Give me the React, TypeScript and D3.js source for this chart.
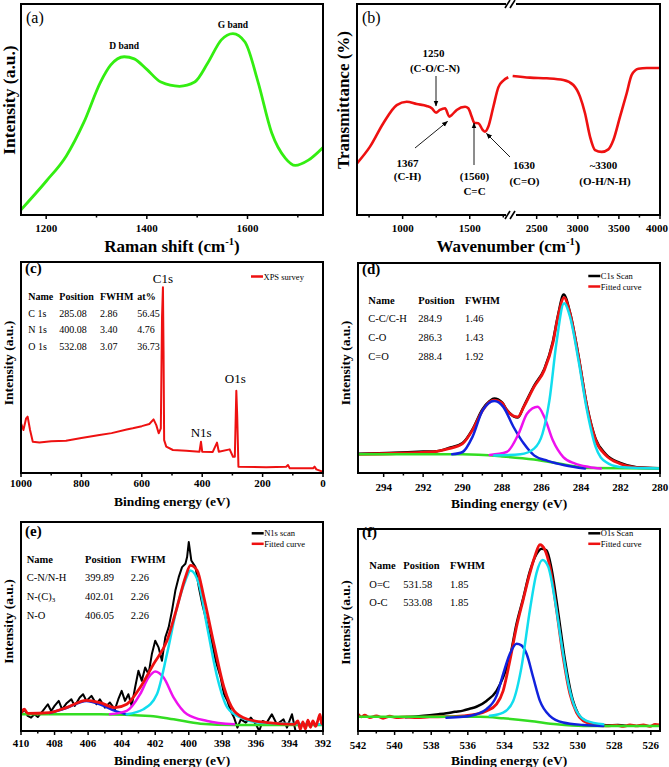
import React from 'react';
import * as d3 from 'd3';

type Pt = [number, number];

const SERIF = "'Liberation Serif', 'Times New Roman', Times, serif";

const RED = '#ee1111';
const GREEN = '#33dd22';
const CYAN = '#11ddee';
const MAGENTA = '#ee11ee';
const BLUE = '#1122dd';

const bold = (size: number) => ({ fontSize: size, fontWeight: 'bold' as const });

// (a) Raman spectrum
const ramanMajor = [1200, 1400, 1600];
const ramanMinor = [1300, 1500, 1700];
const ramanSpectrum: Pt[] = [
  [1150, 2.5], [1200, 16], [1240, 28], [1275, 44], [1308, 63], [1328, 71], [1355, 75],
  [1375, 74], [1400, 69], [1428, 63], [1465, 61], [1495, 63], [1521, 72], [1548, 83],
  [1571, 86], [1595, 82], [1621, 63], [1648, 39], [1675, 27], [1695, 23.5], [1721, 26], [1750, 32],
];

// (b) FTIR, broken axis
const ftirLowMajor = [1000, 1500];
const ftirLowMinor = [750, 1250, 1750];
const ftirHighMajor = [2500, 3000, 3500, 4000];
const ftirHighMinor = [2750, 3250, 3750];
const ftirLow: Pt[] = [
  [660, 24.5], [757, 32.4], [856, 43.5], [956, 52.1], [1030, 53.7], [1105, 52.6], [1179, 51.7],
  [1217, 50.6], [1249, 48.5], [1278, 49.8], [1316, 50.6], [1348, 46.6], [1366, 47.4],
  [1403, 49.8], [1465, 51.3], [1489, 50.6], [1515, 46.6], [1534, 43.7], [1564, 43.5],
  [1597, 40.3], [1614, 39.5], [1638, 41.8], [1676, 51.3], [1713, 60.5], [1750, 63.7], [1787, 65.3],
];
const ftirHigh: Pt[] = [
  [2208, 65.9], [2419, 65.1], [2622, 64.8], [2825, 64], [2946, 61.6], [3027, 56.1], [3088, 48.2],
  [3149, 37.1], [3210, 30.8], [3291, 29.9], [3372, 31.1], [3433, 35.5], [3514, 46.6],
  [3595, 57.7], [3656, 66.4], [3737, 69.3], [3839, 69.7], [4000, 69.7],
];

// (c) XPS survey
const surveyMajor = [1000, 800, 600, 400, 200, 0];
const surveyMinor = [900, 700, 500, 300, 100];
const surveySpectrum: Pt[] = [
  [1000, 23.5], [992, 20.4], [983, 25.9], [978, 26.7], [970, 20.4], [961, 14.8], [939, 14.4],
  [900, 15.1], [851, 15.3], [800, 16.6], [740, 18], [700, 18.9], [650, 20.6], [630, 21.2],
  [600, 22.2], [575, 23.2], [561, 25.4], [552, 22.7], [544, 18.8], [537, 21.2], [533, 74],
  [530, 88], [528, 58], [526, 15.6], [519, 12.5], [497, 10.9], [453, 10.6], [409, 10.1],
  [404, 14.8], [400, 10.1], [365, 10], [351, 14.4], [345, 10.1], [309, 11.2], [298, 7.7],
  [292, 7.7], [287, 39], [284, 26.7], [280, 3], [188, 2.7], [122, 3], [116, 3.8], [110, 2.2],
  [33, 2.2], [28, 3], [22, 1.7], [0, 0.6],
];
const surveyHead = ['Name', 'Position', 'FWHM', 'at%'];
const surveyNames = ['C 1s', 'N 1s', 'O 1s'];
const surveyPos = ['285.08', '400.08', '532.08'];
const surveyFwhm = ['2.86', '3.40', '3.07'];
const surveyAt = ['56.45', '4.76', '36.73'];

// (d) C1s
const c1sMajor = [294, 292, 290, 288, 286, 284, 282, 280];
const c1sMinor = [293, 291, 289, 287, 285, 283, 281];
const c1sScan: Pt[] = [
  [295.3, 9.2], [293.5, 9.6], [292, 10.2], [291.3, 10.4], [290.7, 11.9], [290, 14.3],
  [289.5, 20.8], [289, 30.3], [288.63, 34.3], [288.4, 35.5], [288, 33.6], [287.77, 30.2],
  [287.2, 26.4], [286.9, 31.8], [286.38, 41.5], [285.86, 49.6], [285.43, 62.5], [285.17, 75],
  [284.88, 85], [284.56, 76.5], [284.13, 55.8], [283.7, 32], [283.26, 16.2], [282.74, 8.9],
  [282.05, 4.9], [281.18, 2.8], [280, 2.3],
];
const c1sFit: Pt[] = [
  [295.3, 8.9], [291.57, 10], [290.7, 11.6], [290, 14], [289.5, 20.4], [288.98, 29.9],
  [288.63, 33.9], [288.4, 34.7], [288, 33.4], [287.77, 29.9], [287.2, 26.7], [286.9, 31.5],
  [286.38, 41], [285.86, 49], [285.43, 61.7], [285.17, 74.4], [284.86, 83.5], [284.56, 76],
  [284.13, 55.3], [283.7, 31.5], [283.26, 15.6], [282.74, 8.4], [282.05, 4.5], [281.18, 2.6], [280, 2.1],
];
const c1sCC: Pt[] = [
  [288.4, 8.3], [287.07, 8.9], [286.38, 11.6], [285.95, 18.8], [285.6, 34.7], [285.25, 61.7],
  [284.86, 80.8], [284.56, 74.4], [284.13, 53.7], [283.7, 29.9], [283.26, 12.4], [282.74, 5.2],
  [282.05, 2.9], [280, 2.1],
];
const c1sCO: Pt[] = [
  [288.63, 8.6], [287.77, 10], [287.16, 18.8], [286.73, 28.3], [286.2, 31.5], [285.86, 26.7],
  [285.43, 15.6], [284.9, 7.6], [284.3, 4.5], [283.6, 2.9], [283, 2.1],
];
const c1sCdO: Pt[] = [
  [290.53, 8.9], [290, 10], [289.5, 17.2], [288.98, 29.9], [288.4, 34.3], [287.94, 31.5],
  [287.42, 21.9], [286.9, 14], [286.38, 8.4], [285.69, 5.8], [284.83, 3.7], [283.8, 2.1],
];
const c1sBackground: Pt[] = [
  [295.3, 8.9], [290, 8.9], [288, 7.9], [286.38, 6.4], [284.65, 3.7], [283.6, 2.4], [280, 2.1],
];
const c1sHead = ['Name', 'Position', 'FWHM'];
const c1sNames = ['C-C/C-H', 'C-O', 'C=O'];
const c1sPos = ['284.9', '286.3', '288.4'];
const c1sFwhm = ['1.46', '1.43', '1.92'];

// (e) N1s
const n1sMajor = [410, 408, 406, 404, 402, 400, 398, 396, 394, 392];
const n1sMinor = [409, 407, 405, 403, 401, 399, 397, 395, 393];
const n1sScan: Pt[] = [
  [410, 8], [409.8, 10.4], [409.6, 7.2], [409.4, 6.4], [409.2, 8], [409, 6.7], [408.7, 9.6],
  [408.4, 12.8], [408.2, 9.6], [408, 12], [407.75, 14.4], [407.55, 10.4], [407.3, 13.1],
  [407, 15.2], [406.8, 12], [406.5, 16], [406.3, 17.6], [406.1, 14.4], [405.8, 16.8],
  [405.5, 12.8], [405.3, 15.2], [405, 11.2], [404.7, 13.6], [404.4, 10.4], [404.2, 15.2],
  [404, 19.2], [403.8, 14.4], [403.6, 17.6], [403.4, 12], [403.2, 20.8], [403, 28.8],
  [402.8, 24], [402.6, 30.4], [402.4, 27.2], [402.2, 36.8], [402, 43.2], [401.8, 40],
  [401.6, 33.6], [401.4, 44.8], [401.2, 49.6], [401, 57.6], [400.8, 67.2], [400.6, 73.6],
  [400.4, 78.4], [400.2, 80], [400.1, 83.2], [400, 90.4], [399.85, 81.6], [399.6, 78.4],
  [399.4, 68.8], [399.2, 60.8], [399, 54.4], [398.8, 48], [398.6, 41.6], [398.4, 33.6],
  [398.1, 25.6], [397.9, 17.6], [397.7, 14.4], [397.5, 9.6], [397.3, 6.4], [397.1, 1.6],
  [396.9, 5.6], [396.6, 4], [396.3, 6.4], [396, 3.2], [395.8, 0], [395.6, 4.8], [395.35, 4],
  [395.05, 8], [394.75, 3.2], [394.35, 5.6], [394.15, 1.6], [393.85, 8], [393.65, 0.5],
];
const n1sFit: Pt[] = [
  [410, 8.8], [409.8, 10.4], [409.6, 8.4], [408.3, 8.8], [407.3, 11.2], [406.1, 14.7],
  [405.3, 13.6], [404.4, 11.2], [403.7, 12.8], [402.9, 20.8], [402.1, 32], [401.3, 43.2],
  [400.7, 59.2], [400.2, 73.6], [399.9, 79.2], [399.5, 76.8], [399.1, 64], [398.5, 41.6],
  [397.9, 20.8], [397.3, 9.6], [396.5, 5.6], [395.3, 4], [393.7, 3.2], [393.5, 4.8],
  [393.35, 0.8], [393.2, 4.4], [393.05, 1], [392.9, 5.2], [392.75, 1.8], [392.6, 4.8],
  [392.45, 2.2], [392.3, 5.2], [392.18, 8], [392.08, 3.6], [392, 3.2],
];
const n1sCN: Pt[] = [
  [403.7, 8], [402.7, 10.4], [401.9, 17.6], [401.3, 36.8], [400.7, 59.2], [400.2, 72],
  [399.9, 76.8], [399.4, 70.4], [398.9, 49.6], [398.3, 25.6], [397.7, 11.2], [396.9, 6.4],
  [395.7, 4], [392, 3.2],
];
const n1sNC3: Pt[] = [
  [404.7, 8], [403.7, 9.6], [402.9, 17.6], [402.4, 25.6], [402, 28.5], [401.5, 25.6],
  [400.9, 16], [400.1, 8], [398.9, 4.8], [397.3, 3.2],
];
const n1sNO: Pt[] = [
  [408.3, 8.6], [407.3, 11], [406.1, 14.4], [405.3, 12.8], [404.4, 9.6], [403.7, 8],
];
const n1sBackground: Pt[] = [
  [410, 8], [405.3, 8], [402.3, 7.2], [400.9, 5.6], [399.3, 3.5], [397.3, 2.9], [392, 2.9],
];
const n1sNames = ['C-N/N-H', 'N-(C)', 'N-O'];
const n1sPos = ['399.89', '402.01', '406.05'];
const n1sFwhm = ['2.26', '2.26', '2.26'];

// (f) O1s
const o1sMajor = [542, 540, 538, 536, 534, 532, 530, 528, 526];
const o1sMinor = [541, 539, 537, 535, 533, 531, 529, 527];
const o1sScan: Pt[] = [
  [539.4, 6.8], [538.8, 7.2], [538.08, 7.8], [537.6, 8.3], [537.17, 8.8], [536.7, 9.5],
  [536.26, 10.1], [535.9, 11], [535.53, 12], [534.98, 14.9], [534.43, 19.9], [534.07, 26.6],
  [533.7, 36.5], [533.34, 53], [532.98, 65.5], [532.61, 79], [532.25, 87.5], [531.97, 90.2],
  [531.7, 89.5], [531.43, 80.5], [531.06, 58.5], [530.7, 35.5], [530.33, 17.5], [529.97, 8.5],
  [529.51, 4.6], [528.96, 3.2], [528.4, 2.8], [527.8, 3], [527.4, 2.6],
];
const o1sFit: Pt[] = [
  [542, 8.3], [541.82, 7], [541.64, 7.8], [541.36, 6.6], [541, 7.5], [540.63, 6.3],
  [540.27, 7.3], [539.9, 6.6], [539.36, 7], [538.8, 6.6], [538.08, 7], [537.17, 7.1],
  [536.26, 7.5], [535.53, 8.3], [534.98, 9.9], [534.43, 13.3], [534.07, 19.9], [533.7, 34.9],
  [533.34, 51.5], [532.98, 64.8], [532.61, 78.1], [532.34, 86.4], [532.06, 92.2],
  [531.79, 89.7], [531.52, 81.4], [531.15, 59.8], [530.79, 36.5], [530.42, 18.3],
  [530.06, 9.1], [529.69, 5], [529.15, 3.3], [528.42, 2.5], [527.87, 2.8], [527.5, 2.3],
  [527.14, 3], [526.78, 2.5], [526.41, 3], [526.05, 2.3], [525.77, 3.3], [525.5, 3],
];
const o1sOdC: Pt[] = [
  [534.8, 7.5], [534.07, 9.1], [533.52, 14.9], [533.07, 31.5], [532.61, 59.8], [532.25, 78.1],
  [531.92, 84.7], [531.61, 81.4], [531.24, 64.8], [530.88, 43.2], [530.51, 23.3],
  [530.06, 9.9], [529.51, 5], [528.6, 3.3],
];
const o1sOC: Pt[] = [
  [537.17, 6.6], [536.26, 7], [535.53, 8.3], [534.98, 10.8], [534.43, 17.4], [534.07, 28.2],
  [533.7, 38.2], [533.34, 43.2], [533.07, 42.4], [532.79, 38.2], [532.43, 26.6], [532.06, 14.9],
  [531.52, 7.5], [530.79, 4.2], [529.69, 3], [528.6, 2.5],
];
const o1sBackground: Pt[] = [
  [542, 7], [538.08, 7], [535.35, 7], [534.07, 6.3], [532.61, 5], [531.15, 3.3], [529.69, 2.5], [525.5, 2.5],
];
const o1sNames = ['O=C', 'O-C'];
const o1sPos = ['531.58', '533.08'];
const o1sFwhm = ['1.85', '1.85'];

type Box = { l: number; t: number; r: number; b: number };
type Series = { data: Pt[]; color: string; width?: number; curve?: d3.CurveFactory };
type Scale = d3.ScaleLinear<number, number>;

const invMinus1 = (size: number) => (
  <>
    <tspan dy={-size * 0.4} fontSize={size * 0.62}>-1</tspan>
    <tspan dy={size * 0.4}>)</tspan>
  </>
);

function Panel(p: {
  id: string;
  box: Box;
  xDomain: [number, number];
  majors: number[];
  minors: number[];
  series: Series[];
  tickBase: number;
  xLabel: React.ReactNode;
  xLabelBase: number;
  xLabelSize: number;
  yLabel: string;
  yLabelX: number;
  yLabelY: number;
  yLabelSize: number;
  extra?: (x: Scale, y: Scale) => React.ReactNode;
}) {
  const { box } = p;
  const x = d3.scaleLinear().domain(p.xDomain).range([box.l, box.r]);
  const y = d3.scaleLinear().domain([0, 100]).range([box.b, box.t]);
  const clip = `clip-${p.id}`;
  return (
    <g>
      <clipPath id={clip}>
        <rect x={box.l} y={box.t} width={box.r - box.l} height={box.b - box.t} />
      </clipPath>
      <g clipPath={`url(#${clip})`}>
        {p.series.map((s, i) => {
          const line = d3
            .line<Pt>()
            .x(d => x(d[0]))
            .y(d => y(d[1]))
            .curve(s.curve || d3.curveMonotoneX);
          return (
            <path
              key={i}
              d={line(s.data) || ''}
              fill="none"
              stroke={s.color}
              strokeWidth={s.width || 2.5}
              strokeLinejoin="round"
              strokeLinecap="round"
            />
          );
        })}
      </g>
      <rect x={box.l} y={box.t} width={box.r - box.l} height={box.b - box.t} fill="none" stroke="#000" strokeWidth={2} />
      {p.majors.map(v => (
        <g key={v}>
          <line x1={x(v)} x2={x(v)} y1={box.b} y2={box.b + 4} stroke="#000" strokeWidth={1.5} />
          <text x={x(v)} y={p.tickBase} textAnchor="middle" {...bold(11)}>{v}</text>
        </g>
      ))}
      {p.minors.map(v => (
        <line key={v} x1={x(v)} x2={x(v)} y1={box.b} y2={box.b + 2.5} stroke="#000" strokeWidth={1.5} />
      ))}
      <text x={(box.l + box.r) / 2} y={p.xLabelBase} textAnchor="middle" {...bold(p.xLabelSize)}>
        {p.xLabel}
      </text>
      <text
        transform={`translate(${p.yLabelX},${p.yLabelY}) rotate(-90)`}
        textAnchor="middle"
        {...bold(p.yLabelSize)}
      >
        {p.yLabel}
      </text>
      {p.extra && p.extra(x, y)}
    </g>
  );
}

function Legend({ x, y, items }: { x: number; y: number; items: { label: string; color: string }[] }) {
  return (
    <g>
      {items.map((it, i) => (
        <g key={it.label}>
          <line x1={x} x2={x + 12} y1={y + i * 10.5} y2={y + i * 10.5} stroke={it.color} strokeWidth={2.5} />
          <text x={x + 12.5} y={y + i * 10.5 + 3} fontSize={8.5}>{it.label}</text>
        </g>
      ))}
    </g>
  );
}

function Table({
  cols, head, headY, rowY, rows, size,
}: { cols: number[]; head: string[]; headY: number; rowY: number[]; rows: React.ReactNode[][]; size: number }) {
  return (
    <g fontSize={size}>
      {head.map((h, i) => (
        <text key={h} x={cols[i]} y={headY} {...bold(size)}>{h}</text>
      ))}
      {rows.map((r, j) =>
        r.map((c, i) => (
          <text key={`${j}-${i}`} x={cols[i]} y={rowY[j]}>{c}</text>
        )),
      )}
    </g>
  );
}

function FtirPanel() {
  const box: Box = { l: 357, t: 4, r: 660, b: 215 };
  const breakL = 510;
  const breakR = 512;
  const xL = d3.scaleLinear().domain([660, 1800]).range([box.l, breakL]);
  const xR = d3.scaleLinear().domain([2200, 4000]).range([breakR, box.r]);
  const y = d3.scaleLinear().domain([0, 100]).range([box.b, box.t]);
  const lineL = d3.line<Pt>().x(d => xL(d[0])).y(d => y(d[1])).curve(d3.curveMonotoneX);
  const lineR = d3.line<Pt>().x(d => xR(d[0])).y(d => y(d[1])).curve(d3.curveMonotoneX);
  const ticks = (s: Scale, major: number[], minor: number[]) => (
    <>
      {major.map(v => (
        <g key={v}>
          <line x1={s(v)} x2={s(v)} y1={box.b} y2={box.b + 4} stroke="#000" strokeWidth={1.5} />
          <text x={Math.min(s(v), 657)} y={232} textAnchor="middle" {...bold(11)}>{v}</text>
        </g>
      ))}
      {minor.map(v => (
        <line key={v} x1={s(v)} x2={s(v)} y1={box.b} y2={box.b + 2.5} stroke="#000" strokeWidth={1.5} />
      ))}
    </>
  );
  const bx = (breakL + breakR) / 2;
  const breakMark = (yy: number) => (
    <g>
      <rect x={bx - 5} y={yy - 3} width={10} height={6} fill="#fff" />
      <line x1={bx - 6} y1={yy + 4} x2={bx - 1} y2={yy - 4} stroke="#000" strokeWidth={1.6} />
      <line x1={bx - 1} y1={yy + 4} x2={bx + 4} y2={yy - 4} stroke="#000" strokeWidth={1.6} />
    </g>
  );
  const arrows: [number, number, number, number][] = [
    [436, 76, 436, 106],
    [415, 148, 447.5, 121.5],
    [474, 165, 474, 123],
    [510, 157, 486.5, 133.5],
  ];
  return (
    <g>
      <path d={lineL(ftirLow) || ''} fill="none" stroke={RED} strokeWidth={2.6} strokeLinejoin="round" />
      <path d={lineR(ftirHigh) || ''} fill="none" stroke={RED} strokeWidth={2.6} strokeLinejoin="round" />
      <rect x={box.l} y={box.t} width={box.r - box.l} height={box.b - box.t} fill="none" stroke="#000" strokeWidth={2} />
      {breakMark(box.t)}
      {breakMark(box.b)}
      {ticks(xL, ftirLowMajor, ftirLowMinor)}
      {ticks(xR, ftirHighMajor, ftirHighMinor)}
      <text x={(box.l + box.r) / 2} y={252} textAnchor="middle" {...bold(17)}>
        Wavenumber (cm{invMinus1(17)}
      </text>
      <text transform="translate(349,100) rotate(-90)" textAnchor="middle" {...bold(17)}>
        Transmittance (%)
      </text>
      <text x={362} y={23} fontSize={16}>(b)</text>
      {arrows.map((a, i) => (
        <line key={i} x1={a[0]} y1={a[1]} x2={a[2]} y2={a[3]} stroke="#000" strokeWidth={0.9} markerEnd="url(#arrowHead)" />
      ))}
      <g textAnchor="middle" {...bold(11)}>
        <text x={433.5} y={57}>1250</text>
        <text x={435} y={72}>(C-O/C-N)</text>
        <text x={407.5} y={167}>1367</text>
        <text x={407.5} y={179.5}>(C-H)</text>
        <text x={474.5} y={180}>(1560)</text>
        <text x={474.5} y={195}>C=C</text>
        <text x={524} y={168.5}>1630</text>
        <text x={524.5} y={184.5}>(C=O)</text>
        <text x={603.5} y={168.5}>~3300</text>
        <text x={605} y={184.5}>(O-H/N-H)</text>
      </g>
    </g>
  );
}

export default function App() {
  return (
    <svg
      width={669}
      height={767}
      viewBox="0 0 669 767"
      style={{ position: 'absolute', left: 0, top: 0, background: '#fff', fontFamily: SERIF }}
    >
      <defs>
        <marker id="arrowHead" viewBox="0 0 10 10" refX={9} refY={5} markerWidth={6} markerHeight={6} orient="auto" markerUnits="userSpaceOnUse">
          <path d="M0,1 L10,5 L0,9 Z" fill="#000" stroke="none" />
        </marker>
      </defs>
      <rect width={669} height={767} fill="#fff" />

      {/* (a) Raman */}
      <Panel
        id="a"
        box={{ l: 21, t: 4, r: 323, b: 215 }}
        xDomain={[1150, 1750]}
        majors={ramanMajor}
        minors={ramanMinor}
        series={[{ data: ramanSpectrum, color: '#33ee11', width: 2.8 }]}
        tickBase={232}
        xLabel={<>Raman shift (cm{invMinus1(17)}</>}
        xLabelBase={252}
        xLabelSize={17}
        yLabel="Intensity (a.u.)"
        yLabelX={15}
        yLabelY={100}
        yLabelSize={17.5}
        extra={x => (
          <g>
            <text x={26} y={23} fontSize={16}>(a)</text>
            <text x={x(1355)} y={48.5} textAnchor="middle" {...bold(9.5)}>D band</text>
            <text x={x(1571)} y={27.5} textAnchor="middle" {...bold(9.5)}>G band</text>
          </g>
        )}
      />

      <FtirPanel />

      {/* (c) survey */}
      <Panel
        id="c"
        box={{ l: 21, t: 262, r: 323, b: 473 }}
        xDomain={[1000, 0]}
        majors={surveyMajor}
        minors={surveyMinor}
        series={[{ data: surveySpectrum, color: RED, width: 2, curve: d3.curveLinear }]}
        tickBase={487}
        xLabel="Binding energy (eV)"
        xLabelBase={506}
        xLabelSize={13.5}
        yLabel="Intensity (a.u.)"
        yLabelX={13}
        yLabelY={363}
        yLabelSize={13.5}
        extra={x => (
          <g>
            <text x={25} y={273} {...bold(15)}>(c)</text>
            <text x={x(530)} y={283} textAnchor="middle" fontSize={13}>C1s</text>
            <text x={x(400) - 1} y={437} textAnchor="middle" fontSize={13}>N1s</text>
            <text x={x(287) - 1} y={383} textAnchor="middle" fontSize={13}>O1s</text>
            <Legend x={251} y={276.5} items={[{ label: 'XPS survey', color: RED }]} />
            <Table
              cols={[28.3, 59.3, 100, 137.3]}
              head={surveyHead}
              headY={300}
              rowY={[316.5, 333, 350]}
              rows={surveyNames.map((n, i) => [n, surveyPos[i], surveyFwhm[i], surveyAt[i]])}
              size={10}
            />
          </g>
        )}
      />

      {/* (d) C1s */}
      <Panel
        id="d"
        box={{ l: 358, t: 263, r: 660, b: 473 }}
        xDomain={[295.3, 280]}
        majors={c1sMajor}
        minors={c1sMinor}
        series={[
          { data: c1sScan, color: '#000' },
          { data: c1sFit, color: RED, width: 2.8 },
          { data: c1sBackground, color: GREEN },
          { data: c1sCdO, color: BLUE },
          { data: c1sCO, color: MAGENTA },
          { data: c1sCC, color: CYAN },
        ]}
        tickBase={491}
        xLabel="Binding energy (eV)"
        xLabelBase={508}
        xLabelSize={13.5}
        yLabel="Intensity (a.u.)"
        yLabelX={349.5}
        yLabelY={363}
        yLabelSize={13.5}
        extra={() => (
          <g>
            <text x={362} y={274} {...bold(15)}>(d)</text>
            <Legend x={588.3} y={276} items={[{ label: 'C1s Scan', color: '#000' }, { label: 'Fitted curve', color: RED }]} />
            <Table
              cols={[368.3, 418.3, 465]}
              head={c1sHead}
              headY={303.5}
              rowY={[322, 340.5, 359.5]}
              rows={c1sNames.map((n, i) => [n, c1sPos[i], c1sFwhm[i]])}
              size={10.5}
            />
          </g>
        )}
      />

      {/* (e) N1s */}
      <Panel
        id="e"
        box={{ l: 21, t: 522, r: 323, b: 731 }}
        xDomain={[410, 392]}
        majors={n1sMajor}
        minors={n1sMinor}
        series={[
          { data: n1sScan, color: '#000', width: 2, curve: d3.curveLinear },
          { data: n1sBackground, color: GREEN },
          { data: n1sNO, color: BLUE },
          { data: n1sNC3, color: MAGENTA },
          { data: n1sCN, color: CYAN },
          { data: n1sFit, color: RED, width: 2.8 },
        ]}
        tickBase={747}
        xLabel="Binding energy (eV)"
        xLabelBase={765}
        xLabelSize={13.5}
        yLabel="Intensity (a.u.)"
        yLabelX={13}
        yLabelY={621.5}
        yLabelSize={13.5}
        extra={() => (
          <g>
            <text x={25} y={536} {...bold(15)}>(e)</text>
            <Legend x={251.7} y={533.3} items={[{ label: 'N1s scan', color: '#000' }, { label: 'Fitted curve', color: RED }]} />
            <Table
              cols={[26.7, 85, 130.7]}
              head={c1sHead}
              headY={563}
              rowY={[581, 599.5, 618.5]}
              rows={n1sNames.map((n, i) => [
                i === 1 ? <>{n}<tspan fontSize={7} dy={2}>3</tspan></> : n,
                n1sPos[i],
                n1sFwhm[i],
              ])}
              size={10.5}
            />
          </g>
        )}
      />

      {/* (f) O1s */}
      <Panel
        id="f"
        box={{ l: 358, t: 529, r: 660, b: 731 }}
        xDomain={[542, 525.5]}
        majors={o1sMajor}
        minors={o1sMinor}
        series={[
          { data: o1sScan, color: '#000' },
          { data: o1sFit, color: RED, width: 2.8 },
          { data: o1sBackground, color: GREEN },
          { data: o1sOC, color: BLUE },
          { data: o1sOdC, color: CYAN },
        ]}
        tickBase={749}
        xLabel="Binding energy (eV)"
        xLabelBase={765}
        xLabelSize={13.5}
        yLabel="Intensity (a.u.)"
        yLabelX={349.5}
        yLabelY={622.5}
        yLabelSize={13.5}
        extra={() => (
          <g>
            <text x={362} y={537} {...bold(15)}>(f)</text>
            <Legend x={588.3} y={533.3} items={[{ label: 'O1s Scan', color: '#000' }, { label: 'Fitted curve', color: RED }]} />
            <Table
              cols={[369.3, 403.3, 450]}
              head={c1sHead}
              headY={568.5}
              rowY={[587.5, 606]}
              rows={o1sNames.map((n, i) => [n, o1sPos[i], o1sFwhm[i]])}
              size={10.5}
            />
          </g>
        )}
      />
    </svg>
  );
}
